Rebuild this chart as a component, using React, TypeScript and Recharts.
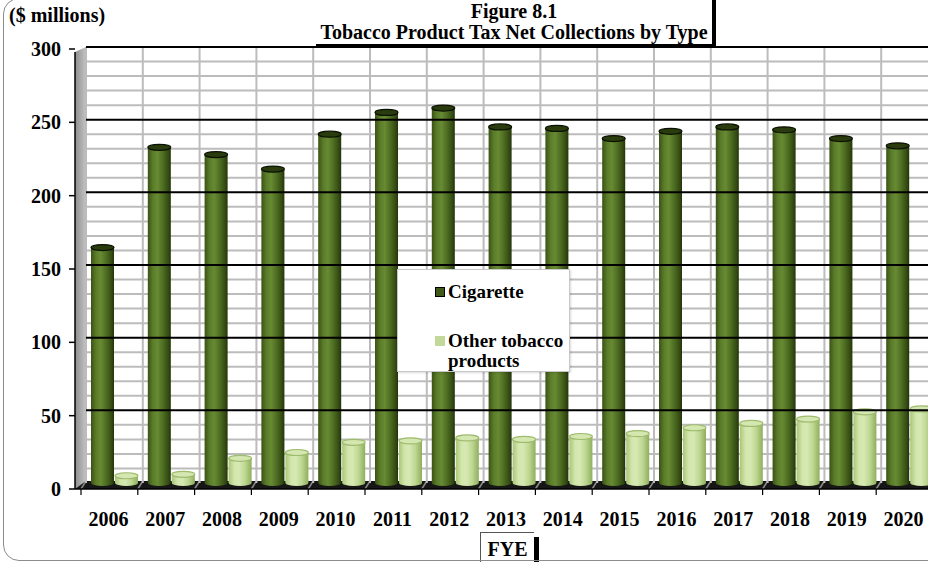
import { BarChart, Bar, XAxis, YAxis, CartesianGrid, ReferenceLine, Legend } from "recharts";

const years = ["2006", "2007", "2008", "2009", "2010", "2011", "2012", "2013", "2014", "2015", "2016", "2017", "2018", "2019", "2020"];
const cigarette = [162, 231, 226, 216, 240, 255, 258, 245, 244, 237, 242, 245, 243, 237, 232];
const otherTobacco = [5, 6, 17, 21, 28, 29, 31, 30, 32, 34, 38, 41, 44, 49, 51];
const yTicks = [0, 50, 100, 150, 200, 250, 300];
const minorLines = [10, 20, 30, 40, 60, 70, 80, 90, 110, 120, 130, 140, 160, 170, 180, 190, 210, 220, 230, 240, 260, 270, 280, 290];
const majorLines = [50, 100, 150, 200, 250, 300];

const data = years.map((y, i) => ({ year: y, cig: cigarette[i], otp: otherTobacco[i] }));

const FONT = "'Liberation Serif', 'Times New Roman', serif";
const W = 938;
const H = 562;
const LEFT = 86;
const TOP = 47;
const BOTTOM = 483;
const BAND = (W - LEFT) / years.length;

function Cylinder(props: any) {
  const { x, y, width, height, grad, cap, capStroke } = props;
  if (!width || height == null) return null;
  const ry = 3;
  return (
    <g>
      <rect x={x} y={y} width={width} height={Math.max(height, 0)} fill={`url(#${grad})`} />
      <ellipse cx={x + width / 2} cy={y + height} rx={width / 2} ry={ry} fill={`url(#${grad})`} />
      <ellipse cx={x + width / 2} cy={y} rx={width / 2} ry={ry} fill={cap} stroke={capStroke} strokeWidth={1.2} />
    </g>
  );
}

function YTick({ x, y, payload }: any) {
  const shift = 2 + ((y - TOP) / (BOTTOM - TOP)) * 4;
  return (
    <g>
      <line x1={x - 17} x2={x - 11} y1={y + shift} y2={y + shift} stroke="#000" strokeWidth={1.5} />
      <text x={x - 25} y={y + shift} dy="0.35em" textAnchor="end" fontFamily={FONT} fontWeight="bold" fontSize={20} fill="#000">
        {payload.value}
      </text>
    </g>
  );
}

function XTick({ x, y, payload }: any) {
  return (
    <text x={x - 6} y={y} dy={43} textAnchor="middle" fontFamily={FONT} fontWeight="bold" fontSize={20} fill="#000">
      {payload.value}
    </text>
  );
}

function LegendBox() {
  const row = { display: "flex", alignItems: "flex-start", gap: 3 } as const;
  return (
    <div
      style={{
        width: 173,
        height: 103,
        boxSizing: "border-box",
        background: "#fff",
        border: "1px solid #c8c8c8",
        boxShadow: "1px 1px 2px rgba(0,0,0,0.15)",
        fontFamily: FONT,
        fontWeight: "bold",
        fontSize: 19,
        lineHeight: "20px",
        paddingLeft: 37,
        paddingTop: 12,
        color: "#000",
      }}
    >
      <div style={row}>
        <span style={{ width: 8, height: 8, marginTop: 5, background: "#3f5a16", border: "1.5px solid #000", flexShrink: 0 }} />
        <span>Cigarette</span>
      </div>
      <div style={{ ...row, marginTop: 29 }}>
        <span style={{ width: 10, height: 10, marginTop: 5, background: "#c3d99a", flexShrink: 0 }} />
        <span>
          Other tobacco
          <br />
          products
        </span>
      </div>
    </div>
  );
}

export default function App() {
  const frontTicks = Array.from({ length: years.length + 1 }, (_, i) => LEFT - 5 + i * BAND);
  const backLines = Array.from({ length: years.length + 1 }, (_, i) => LEFT + i * BAND);
  return (
    <div style={{ position: "absolute", left: 0, top: 0, width: 928, height: 562, overflow: "hidden", background: "#fff" }}>
      {/* 3D wall, floor and front axes behind the chart */}
      <svg width={W} height={H} style={{ position: "absolute", left: 0, top: 0 }}>
        <defs>
          <linearGradient id="cigGrad" x1="0" y1="0" x2="1" y2="0">
            <stop offset="0%" stopColor="#3a5214" />
            <stop offset="22%" stopColor="#5b7c2a" />
            <stop offset="42%" stopColor="#678a33" />
            <stop offset="68%" stopColor="#4c6b20" />
            <stop offset="90%" stopColor="#334a12" />
            <stop offset="100%" stopColor="#22330a" />
          </linearGradient>
          <linearGradient id="otpGrad" x1="0" y1="0" x2="1" y2="0">
            <stop offset="0%" stopColor="#a9c677" />
            <stop offset="25%" stopColor="#d3e6ad" />
            <stop offset="45%" stopColor="#d6e9b3" />
            <stop offset="72%" stopColor="#bdd690" />
            <stop offset="100%" stopColor="#8fae5d" />
          </linearGradient>
          <linearGradient id="wallGrad" x1="0" y1="0" x2="1" y2="0">
            <stop offset="0%" stopColor="#8c8c8c" />
            <stop offset="100%" stopColor="#c4c4c4" />
          </linearGradient>
        </defs>
        <polygon points={`75,52 ${LEFT},${TOP} ${LEFT},${BOTTOM} 75,489`} fill="url(#wallGrad)" />
        <polygon points={`75,489 ${LEFT},${BOTTOM - 2} ${W},${BOTTOM - 2} ${W},489`} fill="#161616" />
        {frontTicks.map((fx, i) => (
          <line key={`fl${i}`} x1={fx} y1={489} x2={backLines[i]} y2={BOTTOM - 2} stroke="#8a8a8a" strokeWidth={1.5} />
        ))}
        <line x1={75} y1={52} x2={75} y2={489} stroke="#000" strokeWidth={1.5} />
        <line x1={75} y1={489} x2={W} y2={489} stroke="#000" strokeWidth={1.5} />
        {frontTicks.map((fx, i) => (
          <line key={`ft${i}`} x1={fx} y1={489} x2={fx} y2={495} stroke="#000" strokeWidth={1.2} />
        ))}
      </svg>

      <div style={{ position: "absolute", left: 0, top: 0 }}>
        <BarChart
          width={W}
          height={H}
          data={data}
          margin={{ top: TOP, right: 0, bottom: H - BOTTOM - 40, left: 0 }}
          barCategoryGap={5}
          barGap={1}
        >
          <CartesianGrid
            horizontalValues={minorLines}
            stroke="#bcbcbc"
            strokeWidth={2}
            verticalCoordinatesGenerator={({ offset }: any) =>
              Array.from({ length: years.length + 1 }, (_, i) => offset.left + (i * offset.width) / years.length)
            }
          />
          {majorLines.map((v) => (
            <ReferenceLine key={v} y={v} stroke="#000" strokeWidth={2} />
          ))}
          <XAxis dataKey="year" height={40} axisLine={false} tickLine={false} tickSize={0} tickMargin={0} tick={<XTick />} interval={0} />
          <YAxis
            domain={[0, 300]}
            ticks={yTicks}
            width={LEFT}
            axisLine={false}
            tickLine={false}
            tickSize={0}
            tickMargin={0}
            tick={<YTick />}
            interval={0}
          />
          <Legend
            layout="horizontal"
            verticalAlign="middle"
            align="center"
            content={<LegendBox />}
            wrapperStyle={{ position: "absolute", left: 397, top: 269, width: 173, height: 103 }}
          />
          <Bar
            dataKey="cig"
            name="Cigarette"
            fill="#4c6b20"
            isAnimationActive={false}
            shape={(p: any) => <Cylinder {...p} grad="cigGrad" cap="#2a3c0d" capStroke="#0b1203" />}
          />
          <Bar
            dataKey="otp"
            name="Other tobacco products"
            fill="#c3d99a"
            isAnimationActive={false}
            shape={(p: any) => <Cylinder {...p} grad="otpGrad" cap="#d5e7b0" capStroke="#9fbb6e" />}
          />
        </BarChart>
      </div>

      {/* title box */}
      <div
        style={{
          position: "absolute",
          left: 316,
          top: 0,
          width: 396,
          height: 43,
          background: "#fff",
          borderRight: "4px solid #000",
          borderBottom: "4px solid #000",
          fontFamily: FONT,
          fontWeight: "bold",
          fontSize: 20,
          lineHeight: "21px",
          textAlign: "center",
          paddingTop: 1,
          boxSizing: "content-box",
          whiteSpace: "nowrap",
        }}
      >
        Figure 8.1
        <br />
        Tobacco Product Tax Net Collections by Type
      </div>

      <div style={{ position: "absolute", left: 9, top: 4, fontFamily: FONT, fontWeight: "bold", fontSize: 20 }}>($ millions)</div>

      {/* axis title */}
      <div
        style={{
          position: "absolute",
          left: 480,
          top: 532,
          width: 54,
          height: 35,
          background: "#fff",
          borderTop: "1px solid #555",
          borderLeft: "1px solid #555",
          fontFamily: FONT,
          fontWeight: "bold",
          fontSize: 20,
          lineHeight: "22px",
          textAlign: "center",
          paddingTop: 5,
          boxSizing: "border-box",
        }}
      >
        FYE
      </div>
      <div style={{ position: "absolute", left: 534, top: 537, width: 5, height: 30, background: "#000" }} />

      <div
        style={{
          position: "absolute",
          left: 3,
          top: -2,
          width: 1000,
          height: 563,
          boxSizing: "border-box",
          border: "1.5px solid #8c8c8c",
          borderRadius: 16,
          pointerEvents: "none",
        }}
      />
    </div>
  );
}
